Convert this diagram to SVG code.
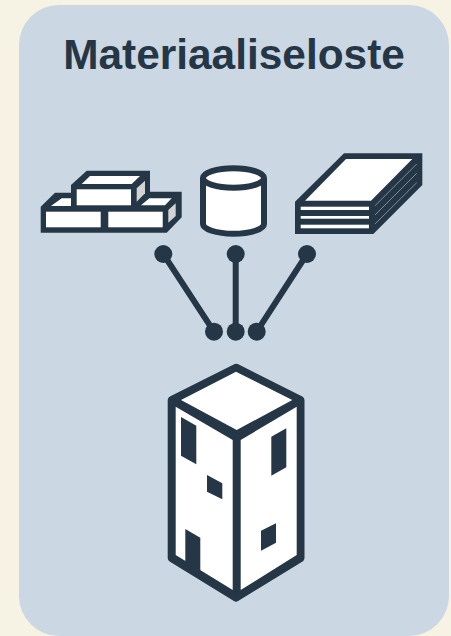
<svg xmlns="http://www.w3.org/2000/svg" width="451" height="636" viewBox="0 0 451 636">
<style>
.d{fill:#253746}
.w{fill:#fff}
.g{fill:#d3d3d3}
.s{fill:#fff;stroke:#253746;stroke-width:6}
.c{stroke:#253746;stroke-width:6;fill:none}
.t{stroke:#7d8c99;stroke-width:1;fill:none}
text{font-family:"Liberation Sans",Arial,sans-serif;font-weight:700;font-size:42.4px;fill:#253746}
</style>
<rect width="451" height="636" fill="#f6f2e4"/>
<rect id="panel" x="19" y="5" width="430" height="631" rx="40" ry="40" fill="#cbd8e3"/>
<text id="title" x="234" y="68.5" text-anchor="middle">Materiaaliseloste</text>
<g id="bricks">
<polygon class="d" points="40.7,206.7 55,192.7 71,192.7 71,185 86.7,170.7 150,170.7 150,191.7 181.7,191.7 181.7,217.3 166.7,232.7 40.7,232.7"/>
<rect class="w" x="46" y="211.7" width="54.7" height="15.6"/>
<rect class="w" x="108.3" y="211.7" width="54.4" height="15.6"/>
<polygon class="w" points="51,206 61.7,198.3 71,198.3 71,206"/>
<rect class="w" x="76.7" y="189.3" width="54.3" height="16"/>
<polygon class="w" points="81.7,184 90,176 140,176 131.7,184"/>
<polygon class="g" points="136.7,188.3 145,180.7 145,193.3 136.7,201.7"/>
<polygon class="w" points="141,205.3 149.3,198.3 171.7,198.3 165,205.3"/>
<polygon class="g" points="168.3,210 175.7,203.3 175.7,216 168.3,222.7"/>
</g>
<g id="cylinder">
<path class="s" d="M203,178V224C203,229 216,233.7 233.5,233.7S264,229 264,224V178"/>
<ellipse class="s" cx="233.5" cy="178" rx="30.5" ry="9.7"/>
</g>
<g id="books">
<polygon class="d" points="295,201.7 344,153.3 422.3,153.3 422.3,185 373.3,234 295,234"/>
<polygon class="w" points="305,200.7 346,159 412.3,159 371,200.7"/>
<rect class="w" x="300.7" y="206.7" width="68.3" height="3.3"/>
<rect class="w" x="300.7" y="216" width="68.3" height="2.7"/>
<rect class="w" x="300.7" y="224.7" width="68.3" height="3.6"/>
<path class="t" d="M375,205.7L416.7,164M375,215L416.7,173.3M375,224L416.7,182.7"/>
</g>
<g id="connectors">
<path class="c" d="M163.3,254L214,331.7M235.7,254V331.7M307,254L256.7,331.7"/>
<circle class="d" cx="163.3" cy="254" r="9"/>
<circle class="d" cx="235.7" cy="254" r="9"/>
<circle class="d" cx="307" cy="254" r="9"/>
<circle class="d" cx="214" cy="331.7" r="9"/>
<circle class="d" cx="235.7" cy="331.7" r="9"/>
<circle class="d" cx="256.7" cy="331.7" r="9"/>
</g>
<g id="building">
<polygon points="236,367.7 300.5,400 300.5,558 236,597.7 171.7,558 171.7,400" fill="#253746" stroke="#253746" stroke-width="8" stroke-linejoin="round"/>
<polygon class="w" points="181,400 236,371.7 292.3,400 236.7,430"/>
<polygon class="w" points="175.7,406.7 232.7,440 232.7,590 175.7,555"/>
<polygon class="w" points="240.7,440 296.7,406.7 296.7,555 240.7,590"/>
<polygon class="d" points="181,417 196.3,425.7 196.3,464.3 181,455.7"/>
<polygon class="d" points="207,475 222.3,483.3 222.3,499.3 207,491.7"/>
<polygon class="d" points="185.3,529 200.3,537.7 200.3,575 185.3,566"/>
<polygon class="d" points="271.3,436.7 286.3,428.3 286.3,467.3 271.3,475.7"/>
<polygon class="d" points="261,530.7 276,523.3 276,542.7 261,550.7"/>
</g>
</svg>
